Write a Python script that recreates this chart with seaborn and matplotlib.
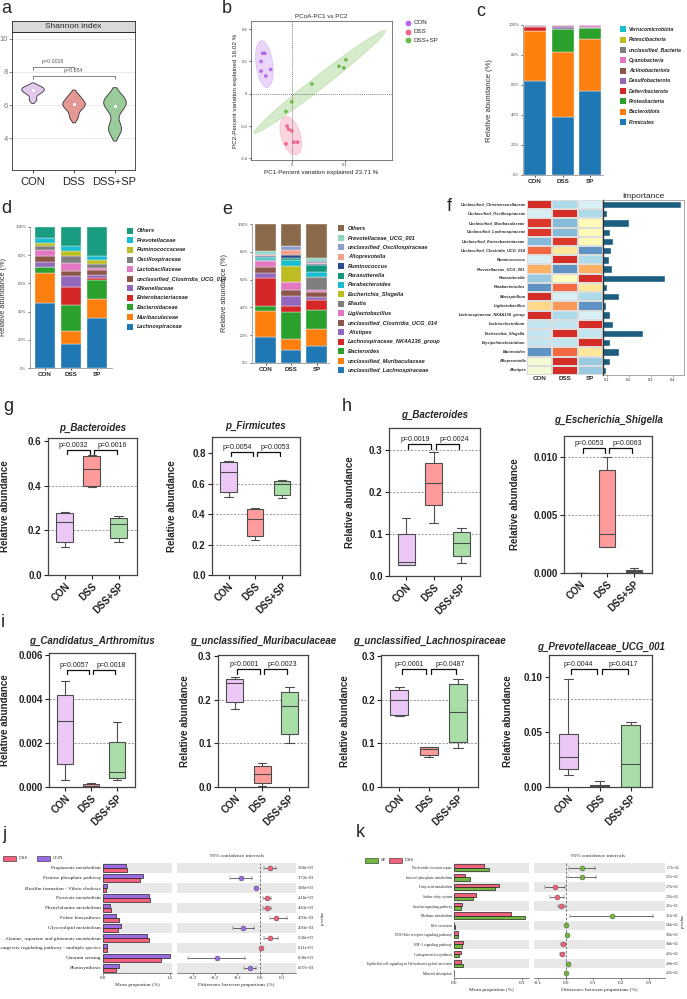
import numpy as np
import pandas as pd
import matplotlib
matplotlib.use('Agg')
import matplotlib.pyplot as plt
from matplotlib.patches import Ellipse, Rectangle
import matplotlib.transforms as mtransforms
import seaborn as sns

# ---------------- data ----------------
groups3 = ['CON', 'DSS', 'DSS+SP']
groups_bar = ['CON', 'DSS', 'SP']

# a: Shannon index
shannon_con = [6.35, 6.7, 6.85, 6.95, 7.05, 7.15]
shannon_dss = [5.3, 5.75, 6.0, 6.1, 6.3, 6.6]
shannon_sp = [4.5, 4.7, 5.8, 6.1, 6.3, 6.45]
shannon_p = ['p=0.0026', 'p=0.054']

# b: PCoA
pc1_con = [-0.055, -0.051, -0.058, -0.058, -0.049, -0.040]
pc2_con = [0.25, 0.25, 0.20, 0.14, 0.11, 0.15]
pc1_dss = [-0.009, -0.006, 0.000, -0.011, 0.004, 0.011]
pc2_dss = [-0.20, -0.22, -0.23, -0.31, -0.30, -0.30]
pc1_sp = [-0.011, 0.000, 0.038, 0.089, 0.098, 0.102]
pc2_sp = [-0.11, -0.05, 0.06, 0.17, 0.16, 0.21]

# c: phylum
phyla = ['Firmicutes', 'Bacteroidota', 'Proteobacteria', 'Deferribacterota', 'Desulfobacterota',
         'Actinobacteriota', 'Cyanobacteria', 'unclassified_Bacteria', 'Patescibacteria', 'Verrucomicrobiota']
phyla_con = [62.7, 33.3, 0.3, 2.2, 0.6, 0.3, 0.3, 0.2, 0.05, 0.05]
phyla_dss = [38.9, 43.3, 14.9, 0.5, 0.8, 1.2, 0.2, 0.1, 0.05, 0.05]
phyla_sp = [56.0, 34.7, 7.1, 0.3, 0.5, 0.4, 0.7, 0.1, 0.1, 0.1]

# d: family
families = ['Lachnospiraceae', 'Muribaculaceae', 'Bacteroidaceae', 'Enterobacteriaceae', 'Rikenellaceae',
            'unclassified_Clostridia_UCG_014', 'Lactobacillaceae', 'Oscillospiraceae', 'Ruminococcaceae',
            'Prevotellaceae', 'Others']
fam_con = [46.1, 21.5, 4.0, 0.3, 3.5, 3.7, 4.5, 2.6, 2.6, 3.1, 8.1]
fam_dss = [17.3, 8.7, 18.4, 13.0, 7.8, 3.6, 5.7, 4.7, 3.5, 3.6, 13.7]
fam_sp = [35.5, 13.2, 13.9, 1.5, 1.6, 3.6, 1.6, 2.6, 2.9, 2.8, 20.8]

# e: genus
genera = ['unclassified_Lachnospiraceae', 'unclassified_Muribaculaceae', 'Bacteroides',
          'Lachnospiraceae_NK4A136_group', 'Alistipes', 'unclassified_Clostridia_UCG_014',
          'Ligilactobacillus', 'Blautia', 'Escherichia_Shigella', 'Parabacteroides', 'Parasutterella',
          'Ruminococcus', 'Alloprevotella', 'unclassified_Oscillospiraceae', 'Prevotellaceae_UCG_001', 'Others']
gen_con = [18.5, 18.7, 4.0, 20.0, 3.5, 4.1, 4.8, 0.5, 0.3, 1.1, 0.5, 0.7, 0.8, 0.9, 2.4, 19.2]
gen_dss = [9.6, 7.9, 19.0, 4.7, 7.2, 4.4, 5.2, 0.5, 11.0, 4.4, 1.6, 2.4, 3.6, 2.4, 0.5, 15.6]
gen_sp = [12.5, 12.0, 13.4, 7.2, 2.4, 3.3, 1.5, 9.6, 0.3, 3.0, 5.5, 0.8, 0.5, 1.1, 2.4, 24.5]

# f: heatmap + importance
hm_rows = ['Unclassified_Christensenellaceae', 'Unclassified_Oscillospiraceae', 'Unclassified_Muribaculaceae',
           'Unclassified_Lachnospiraceae', 'Unclassified_Enterobacteriaceae', 'Unclassified_Clostridia_UCG_014',
           'Ruminococcus', 'Prevotellaceae_UCG_001', 'Parasutterella', 'Parabacteroides', 'Mucispirillum',
           'Ligilactobacillus', 'Lachnospiraceae_NK4A136_group', 'Lachnoclostridium', 'Escherichia_Shigella',
           'Erysipelatoclostridium', 'Bacteroides', 'Alloprevotella', 'Alistipes']
hm_con = [1.05, -0.3, 1.0, 1.0, -0.7, 0.8, -0.3, 0.5, -0.6, -0.9, 1.05, 0.3, 1.05, -0.4, -0.4, -0.4, -0.9, -0.1, -0.1]
hm_dss = [-0.5, 1.05, -0.7, -0.7, 1.0, 0.2, 1.05, -0.9, 0.0, 0.8, -0.3, 0.6, -0.5, -0.4, 1.05, -0.4, 0.8, 1.05, 1.05]
hm_sp = [-0.3, -0.5, 0.05, 0.05, 0.05, -0.9, -0.5, 0.5, 1.05, 0.2, -0.5, -0.9, -0.3, 1.05, -0.4, 1.05, 0.2, -0.6, -0.6]
importance = [0.436, 0.099, 0.20, 0.114, 0.126, 0.12, 0.108, 0.124, 0.365, 0.10, 0.155, 0.095, 0.115,
              0.126, 0.262, 0.114, 0.156, 0.114, 0.095]

# g-i: box plots, five-number summaries (min, q1, median, q3, max)
box_specs = [
    dict(title='p_Bacteroides', box=(48, 438, 137, 575), ylim=(0, 0.615), yticks=[0, 0.2, 0.4, 0.6],
         fmt='{:.1f}', grid=[0.2, 0.4], by=0.562, ty=428, ylx=10,
         con=[0.127, 0.15, 0.24, 0.277, 0.281], dss=[0.394, 0.40, 0.476, 0.536, 0.539],
         sp=[0.147, 0.168, 0.228, 0.258, 0.267], p=['p=0.0032', 'p=0.0016']),
    dict(title='p_Firmicutes', box=(212, 437, 300, 575), ylim=(0, 0.905), yticks=[0, 0.2, 0.4, 0.6, 0.8],
         fmt='{:.1f}', grid=[0.2, 0.4, 0.6], by=0.808, ty=426, ylx=177,
         con=[0.513, 0.542, 0.673, 0.739, 0.75], dss=[0.23, 0.258, 0.37, 0.43, 0.441],
         sp=[0.507, 0.525, 0.594, 0.616, 0.623], p=['p=0.0054', 'p=0.0053']),
    dict(title='g_Bacteroides', box=(389, 428, 480, 576), ylim=(0, 0.352), yticks=[0, 0.1, 0.2, 0.3],
         fmt='{:.1f}', grid=[0.1, 0.2, 0.3], by=0.313, ty=415, ylx=355,
         con=[0.025, 0.026, 0.033, 0.099, 0.137], dss=[0.125, 0.17, 0.222, 0.268, 0.296],
         sp=[0.03, 0.047, 0.079, 0.105, 0.114], p=['p=0.0019', 'p=0.0024']),
    dict(title='g_Escherichia_Shigella', box=(564, 436, 652, 573), ylim=(0, 0.0118), yticks=[0, 0.005, 0.010],
         fmt='{:.3f}', grid=[0.005, 0.010], by=0.01075, ty=420, ylx=520,
         con=[0.0, 0.0, 0.00001, 0.00002, 0.00003], dss=[0.00222, 0.00227, 0.00334, 0.00888, 0.01003],
         sp=[0.00005, 0.0001, 0.0002, 0.0003, 0.00045], p=['p=0.0053', 'p=0.0063']),
    dict(title='g_Candidatus_Arthromitus', box=(49, 653, 135, 787), ylim=(0, 0.00609),
         yticks=[0, 0.002, 0.004, 0.006], fmt='{:.3f}', grid=[0.002, 0.004], by=0.00532, ty=641, ylx=10,
         con=[0.00033, 0.00105, 0.003, 0.0042, 0.0048], dss=[0.00001, 0.00002, 0.00005, 0.00012, 0.0002],
         sp=[0.00033, 0.00042, 0.0007, 0.00206, 0.00294], p=['p=0.0057', 'p=0.0018']),
    dict(title='g_unclassified_Muribaculaceae', box=(218, 655, 308, 787), ylim=(0, 0.302),
         yticks=[0, 0.1, 0.2, 0.3], fmt='{:.1f}', grid=[0.1, 0.2], by=0.269, ty=641, ylx=190,
         con=[0.179, 0.195, 0.239, 0.246, 0.251], dss=[0.0015, 0.01, 0.03, 0.048, 0.055],
         sp=[0.1, 0.122, 0.185, 0.218, 0.229], p=['p<0.0001', 'p=0.0023']),
    dict(title='g_unclassified_Lachnospiraceae', box=(381, 655, 478, 787), ylim=(0, 0.302),
         yticks=[0, 0.1, 0.2, 0.3], fmt='{:.1f}', grid=[0.1, 0.2], by=0.269, ty=641, ylx=350,
         con=[0.163, 0.165, 0.2, 0.223, 0.229], dss=[0.068, 0.074, 0.086, 0.091, 0.0925],
         sp=[0.09, 0.104, 0.172, 0.235, 0.246], p=['p=0.0001', 'p=0.0487']),
    dict(title='g_Prevotellaceae_UCG_001', box=(549, 655, 652, 787), ylim=(0, 0.12),
         yticks=[0, 0.05, 0.10], fmt='{:.2f}', grid=[0.04, 0.08], by=0.107, ty=647, ylx=513,
         con=[0.0107, 0.0168, 0.0274, 0.048, 0.098], dss=[0.0, 0.0003, 0.0006, 0.0015, 0.0058],
         sp=[0.0, 0.0, 0.0213, 0.0564, 0.0595], p=['p=0.0044', 'p=0.0417']),
]

# j: STAMP DSS vs CON
paths_j = ['Propanoate metabolism', 'Pentose phosphate pathway', 'Biofilm formation - Vibrio cholerae',
           'Pyruvate metabolism', 'Phenylalanine metabolism', 'Folate biosynthesis', 'Glycerolipid metabolism',
           'Alanine, aspartate and glutamate metabolism', 'Longevity regulating pathway - multiple species',
           'Quorum sensing', 'Photosynthesis']
j_con = [0.51, 0.91, 0.09, 1.03, 0.16, 0.29, 0.41, 0.98, 0.08, 1.50, 0.35]
j_dss = [0.55, 0.83, 0.07, 1.06, 0.19, 0.36, 0.34, 1.03, 0.09, 1.30, 0.30]
j_diff = [0.045, -0.084, -0.015, 0.033, 0.033, 0.075, -0.075, 0.048, 0.007, -0.194, -0.042]
j_lo = [0.018, -0.134, -0.020, 0.015, 0.015, 0.045, -0.120, 0.018, 0.005, -0.321, -0.069]
j_hi = [0.072, -0.033, -0.010, 0.052, 0.052, 0.122, -0.024, 0.081, 0.009, -0.064, -0.015]
j_p = ['3.68e-03', '3.72e-03', '3.86e-03', '4.18e-03', '4.83e-03', '4.93e-03', '4.93e-03', '5.38e-03',
       '6.11e-03', '6.38e-03', '6.97e-03']

# k: STAMP SP vs DSS
paths_k = ['Nucleotide excision repair', 'Inositol phosphate metabolism', 'Fatty acid metabolism',
           'Sulfur relay system', 'Insulin signaling pathway', 'Methane metabolism', 'Bile secretion',
           'NOD-like receptor signaling pathway', 'HIF-1 signaling pathway', 'Carbapenem biosynthesis',
           'Epithelial cell signaling in Helicobacter pylori infection', 'Mineral absorption']
k_dss = [0.130, 0.048, 0.196, 0.097, 0.037, 0.252, 0.002, 0.018, 0.041, 0.029, 0.032, 0.001]
k_sp = [0.154, 0.072, 0.180, 0.083, 0.029, 0.313, 0.003, 0.018, 0.037, 0.023, 0.038, 0.002]
k_diff = [0.059, 0.059, -0.040, -0.031, -0.016, 0.167, 0.002, 0.004, -0.010, -0.012, 0.010, 0.001]
k_lo = [0.012, 0.010, -0.073, -0.058, -0.028, 0.017, 0.001, 0.002, -0.015, -0.020, 0.005, 0.0005]
k_hi = [0.105, 0.108, -0.004, -0.006, -0.004, 0.316, 0.003, 0.006, -0.005, -0.005, 0.015, 0.0015]
k_p = ['1.72e-02', '2.55e-02', '2.76e-02', '2.91e-02', '3.15e-02', '3.31e-02', '3.44e-02', '3.58e-02',
       '3.68e-02', '4.06e-02', '4.08e-02', '4.95e-02']

# ---------------- styles ----------------
violin_colors = ['#e6c3f2', '#f38a86', '#93d393']
pcoa_colors = ['#b26de6', '#f0668f', '#6fb84a']
phyla_colors = ['#1f77b4', '#ff7f0e', '#2ca02c', '#d62728', '#9467bd', '#8c564b', '#e377c2', '#7f7f7f',
                '#bcbd22', '#17becf']
fam_colors = ['#1f77b4', '#ff7f0e', '#2ca02c', '#d62728', '#9467bd', '#8c564b', '#e377c2', '#7f7f7f',
              '#bcbd22', '#17becf', '#1a9c80']
gen_colors = ['#1f77b4', '#ff7f0e', '#2ca02c', '#d62728', '#9467bd', '#8c564b', '#e377c2', '#7f7f7f',
              '#bcbd22', '#17becf', '#13977a', '#2c4a8e', '#f5a08b', '#8e9dcc', '#8fd6c2', '#8b6a4b']
box_colors = ['#ecc8f7', '#ff9b9b', '#a9dea9']
PINK, PURPLE, GREEN = '#f4607e', '#9b6be6', '#72b840'

sns.set_style('ticks')
plt.rcParams['font.family'] = ['Liberation Sans', 'DejaVu Sans']
plt.rcParams['axes.linewidth'] = 0.6
plt.rcParams['xtick.major.width'] = 0.6
plt.rcParams['ytick.major.width'] = 0.6

W, H = 687, 999
fig = plt.figure(figsize=(W / 100, H / 100), dpi=100)


def AX(l, t, r, b):
    return fig.add_axes([l / W, 1 - b / H, (r - l) / W, (b - t) / H])


def FT(x, y, s, **kw):
    return fig.text(x / W, 1 - y / H, s, **kw)


def plabel(x, y, s):
    FT(x, y, s, fontsize=13, va='top', ha='left')


# ================= a =================
axA = AX(12, 32, 135, 170)
dfA = pd.DataFrame({'group': np.repeat(groups3, [len(shannon_con), len(shannon_dss), len(shannon_sp)]),
                    'Shannon': shannon_con + shannon_dss + shannon_sp})
axA.yaxis.grid(True, color='#e8e8e8', lw=0.6)
axA.set_axisbelow(True)
sns.violinplot(data=dfA, x='group', y='Shannon', hue='group', palette=violin_colors, inner=None,
               density_norm='width', width=0.55, bw_method=0.5, cut=1.5, linewidth=0.6,
               linecolor='#333333', legend=False, ax=axA)
med = dfA.groupby('group', sort=False)['Shannon'].median()
axA.scatter(np.arange(3), med.values, color='white', s=5, zorder=5, linewidths=0)
axA.set_ylim(2.1, 10.4)
axA.set_xlim(-0.5, 2.5)
axA.set_yticks([4, 6, 8, 10])
axA.tick_params(axis='y', labelsize=5.5, labelcolor='#777777', length=2, color='#777777', pad=1)
axA.tick_params(axis='x', labelsize=8, length=2, pad=3)
axA.set_xlabel('')
axA.set_ylabel('')
for s in axA.spines.values():
    s.set_color('#333333')


def abracket(ax, x1, x2, y, leg, text, ty):
    ax.plot([x1, x1, x2, x2], [y - leg, y, y, y - leg], color='#555555', lw=0.5)
    ax.text((x1 + x2) / 2, ty, text, ha='center', va='center', fontsize=3.8, color='#555555')


abracket(axA, 0, 1, 8.32, 0.22, shannon_p[0], 8.62)
abracket(axA, 0, 2, 7.78, 0.22, shannon_p[1], 8.08)
axS = AX(12, 21, 135, 32)
axS.set_facecolor('#d9d9d9')
axS.set_xticks([])
axS.set_yticks([])
axS.text(0.5, 0.5, 'Shannon index', ha='center', va='center', fontsize=6, transform=axS.transAxes)
plabel(1, 0, 'a')

# ================= b =================
axB = AX(251, 21, 392, 160)
dfB = pd.DataFrame({'group': np.repeat(groups3, 6), 'PC1': pc1_con + pc1_dss + pc1_sp,
                    'PC2': pc2_con + pc2_dss + pc2_sp})
for g, col in zip(groups3, pcoa_colors):
    sub = dfB[dfB.group == g]
    cov = np.cov(sub.PC1, sub.PC2)
    vals, vecs = np.linalg.eigh(cov)
    order = vals.argsort()[::-1]
    vals, vecs = vals[order], vecs[:, order]
    ang = np.degrees(np.arctan2(vecs[1, 0], vecs[0, 0]))
    axB.add_patch(Ellipse((sub.PC1.mean(), sub.PC2.mean()), 2 * 2.45 * np.sqrt(vals[0]),
                          2 * 2.45 * np.sqrt(vals[1]), angle=ang, facecolor=col, alpha=0.28,
                          edgecolor=col, lw=0.6))
sns.scatterplot(data=dfB, x='PC1', y='PC2', hue='group', palette=pcoa_colors, s=7, linewidth=0,
                legend=False, ax=axB, zorder=4)
axB.axhline(0, ls=(0, (1.5, 1.5)), color='#555555', lw=0.5)
axB.axvline(0, ls=(0, (1.5, 1.5)), color='#555555', lw=0.5)
axB.set_xlim(-0.077, 0.189)
axB.set_ylim(-0.41, 0.45)
axB.set_xticks([0, 0.1])
axB.set_xticklabels(['0', '0.1'])
axB.set_yticks([-0.4, -0.2, 0, 0.2, 0.4])
axB.set_yticklabels(['-0.4', '-0.2', '0', '0.2', '0.4'])
axB.tick_params(labelsize=3, length=1.5, pad=1, colors='#444444')
axB.set_xlabel('PC1-Percent variation explained 23.71 %', fontsize=4.5, labelpad=2)
axB.set_ylabel('PC2-Percent variation explained 16.02 %', fontsize=4.5, labelpad=2)
axB.set_title('PCoA-PC1 vs PC2', fontsize=4.5, pad=2)
for s in axB.spines.values():
    s.set_color('#666666')
for i, (g, col) in enumerate(zip(groups3, pcoa_colors)):
    y = 23 + i * 8.5
    fig.add_artist(plt.Line2D([408 / W], [1 - y / H], marker='o', color=col, ms=3.2, lw=0,
                              transform=fig.transFigure))
    FT(414, y, g, fontsize=4.5, va='center', ha='left')
plabel(222, 0, 'b')


# ================= c, d, e =================
def stacked(ax, cats, colors, cols, width):
    table = pd.DataFrame(dict(zip(groups_bar, cols)), index=cats)
    bottom = np.zeros(len(groups_bar))
    for cat, col in zip(cats, colors):
        v = table.loc[cat].values
        ax.bar(groups_bar, v, bottom=bottom, width=width, color=col, edgecolor='#eeeeee', linewidth=0.3)
        bottom += v
    ax.set_ylim(0, 100)
    ax.set_yticks(range(0, 101, 20))
    ax.set_yticklabels([f'{v}%' for v in range(0, 101, 20)])
    ax.tick_params(axis='y', labelsize=3.2, length=1.5, pad=1, colors='#555555')
    ax.tick_params(axis='x', labelsize=4.5, length=1.5, pad=1.5)
    for lab in ax.get_xticklabels():
        lab.set_fontweight('bold')
    for s in ['top', 'right']:
        ax.spines[s].set_visible(False)
    for s in ['left', 'bottom']:
        ax.spines[s].set_color('#999999')


def box_legend(x, y0, dy, labels, colors, fs, sq=5.5, tx=None):
    for i, (lab, col) in enumerate(zip(labels, colors)):
        y = y0 + i * dy
        fig.add_artist(Rectangle((x / W, 1 - (y + sq / 2) / H), sq / W, sq / H,
                                 transform=fig.transFigure, facecolor=col, edgecolor='none'))
        FT(tx, y, lab, fontsize=fs, va='center', ha='left', style='italic', weight='bold', color='#222222')


axC = AX(523, 25, 603, 175)
stacked(axC, phyla, phyla_colors, [phyla_con, phyla_dss, phyla_sp], 0.8)
axC.set_xlim(-0.44, 2.47)
axC.set_ylabel('Relative abundance (%)', fontsize=5.6, color='#333333', labelpad=2)
axC.yaxis.set_label_coords((493 - 523) / 80, 0.5)
box_legend(620, 29.3, 10.3, phyla[::-1], phyla_colors[::-1], 3.7, sq=6, tx=629)
plabel(476, 3, 'c')

axD = AX(30, 227, 112, 368)
stacked(axD, families, fam_colors, [fam_con, fam_dss, fam_sp], 0.77)
axD.set_xlim(-0.58, 2.58)
axD.set_ylabel('Relative abundance (%)', fontsize=5.3, color='#333333')
axD.yaxis.set_label_coords((7 - 30) / 82, 0.5)
box_legend(127, 230.7, 9.6, families[::-1], fam_colors[::-1], 4.1, sq=6, tx=137)
plabel(1, 200, 'd')

axE = AX(252, 224, 329, 363)
stacked(axE, genera, gen_colors, [gen_con, gen_dss, gen_sp], 0.82)
axE.set_xlim(-0.53, 2.49)
axE.set_ylabel('Relative abundance (%)', fontsize=5.3, color='#333333')
axE.yaxis.set_label_coords((228 - 252) / 77, 0.5)
box_legend(338, 228.3, 9.45, genera[::-1], gen_colors[::-1], 4.1, sq=6, tx=348)
plabel(222, 201, 'e')

# ================= f =================
axH = AX(527, 200, 603, 375)
axCB = AX(668, 348, 670.5, 372)
hm = pd.DataFrame({'CON': hm_con, 'DSS': hm_dss, 'SP': hm_sp}, index=hm_rows)
sns.heatmap(hm, cmap='RdYlBu_r', vmin=-1.3, vmax=1.3, linewidths=0.25, linecolor='#dddddd',
            ax=axH, cbar_ax=axCB, xticklabels=True, yticklabels=True)
axH.set_yticklabels(hm_rows, fontsize=2.9, fontweight='bold', fontstyle='italic', rotation=0)
axH.set_xticklabels(groups_bar, fontsize=4.5, fontweight='bold', rotation=0)
axH.tick_params(length=0, pad=1)
axCB.set_yticks([-1, -0.5, 0, 0.5, 1])
axCB.set_yticklabels(['-1.0', '-0.5', '0.0', '0.5', '1.0'])
axCB.tick_params(labelsize=2.3, length=1, pad=0.5, width=0.3)
for s in axCB.spines.values():
    s.set_visible(False)
axI = AX(603, 200, 684, 375)
dfI = pd.DataFrame({'taxon': hm_rows, 'importance': importance})
sns.barplot(data=dfI, x='importance', y='taxon', orient='h', color='#1b5e80', width=0.8, ax=axI,
            saturation=1)
axI.set_xlim(0.082, 0.45)
axI.set_ylim(len(hm_rows) - 0.5, -0.5)
axI.set_yticks([])
axI.set_ylabel('')
axI.set_xlabel('')
axI.set_xticks([0.1, 0.2, 0.3, 0.4])
axI.set_xticklabels(['0.1', '0.2', '0.3', '0.4'])
axI.tick_params(axis='x', labelsize=2.8, length=1, pad=1)
axI.set_title('Importance', fontsize=6, pad=1.5)
for s in axI.spines.values():
    s.set_color('#888888')
    s.set_linewidth(0.5)
axI.spines['left'].set_color('#333333')
axI.spines['left'].set_linewidth(1.0)
FT(447, 198, 'f', fontsize=13, va='top', ha='left')


# ================= g, h, i =================
def boxpanel(spec):
    l, t, r, b = spec['box']
    ax = AX(l, t, r, b)
    df = pd.DataFrame({'group': np.repeat(groups3, 5), 'val': np.concatenate([spec['con'], spec['dss'], spec['sp']])})
    for gv in spec['grid']:
        ax.axhline(gv, ls=(0, (2.5, 1.8)), color='#8a8a8a', lw=0.6, zorder=0)
    sns.boxplot(data=df, x='group', y='val', hue='group', palette=box_colors, whis=(0, 100), width=0.62,
                linecolor='#4d4d4d', linewidth=0.8, legend=False, ax=ax, saturation=1)
    ax.set_xlim(-0.62, 2.68)
    ax.set_ylim(*spec['ylim'])
    ax.set_yticks(spec['yticks'])
    ax.set_yticklabels([spec['fmt'].format(v) for v in spec['yticks']], fontweight='bold', fontsize=7)
    ax.set_xticks(range(3))
    ax.set_xticklabels(groups3, rotation=45, ha='right', rotation_mode='anchor', fontweight='bold', fontsize=7)
    ax.tick_params(axis='both', length=3, width=0.8, pad=1.5, colors='#222222')
    ax.set_xlabel('')
    ax.set_ylabel('Relative abundance', fontsize=7, fontweight='bold')
    ax.yaxis.set_label_coords((spec['ylx'] - l) / (r - l), 0.5)
    for s in ax.spines.values():
        s.set_color('#444444')
        s.set_linewidth(0.9)
    y0, y1 = spec['ylim']
    leg = 4.5 / (b - t) * (y1 - y0)
    by = spec['by']
    for (a, c), txt, tx in zip([(0, 1), (1, 2)], spec['p'], [0.33, 1.75]):
        ax.plot([a + 0.08, a + 0.08, c - 0.08, c - 0.08], [by - leg, by, by, by - leg], color='#111111', lw=0.9)
        ax.text(tx, by + leg * 0.25, txt, ha='center', va='bottom', fontsize=5.0, color='#222222')
    FT((l + r) / 2, spec['ty'], spec['title'], fontsize=7, fontweight='bold', fontstyle='italic',
       ha='center', va='center')


for spec in box_specs:
    boxpanel(spec)
plabel(3, 398, 'g')
plabel(342, 398, 'h')
plabel(1, 614, 'i')


# ================= j, k =================
def stamp(bar_box, diff_box, paths, up_name, up_vals, up_col, lo_name, lo_vals, lo_col,
          diff, lo, hi, pos_col, neg_col, pvals, xlim_b, xt_b, xlim_d, xt_d, lab_fs, p_fs, p_x, pv_x, leg_items,
          leg_y, title_x):
    serif = ['Liberation Serif', 'DejaVu Serif']
    n = len(paths)
    axb = AX(*bar_box)
    for i in range(0, n, 2):
        axb.axhspan(i - 0.5, i + 0.5, color='#e8e8e8', lw=0, zorder=0)
    df = pd.DataFrame({'path': paths * 2, 'group': [up_name] * n + [lo_name] * n,
                       'val': list(up_vals) + list(lo_vals)})
    sns.barplot(data=df, y='path', x='val', hue='group', hue_order=[up_name, lo_name],
                palette=[up_col, lo_col], orient='h', width=0.72, edgecolor='#222222', linewidth=0.5,
                legend=False, ax=axb, saturation=1)
    axb.set_ylim(n - 0.5, -0.5)
    axb.set_xlim(*xlim_b)
    axb.set_xticks(xt_b)
    axb.set_xticklabels([f'{v:.1f}' for v in xt_b], fontfamily=serif, fontsize=3.6)
    axb.set_yticks(range(n))
    axb.set_yticklabels(paths, fontfamily=serif, fontsize=lab_fs)
    axb.tick_params(axis='y', length=0, pad=1.5)
    axb.tick_params(axis='x', length=1.5, pad=1, width=0.4)
    axb.set_ylabel('')
    axb.set_xlabel('Mean proportion (%)', fontfamily=serif, fontsize=3.8, labelpad=2)
    for s in ['top', 'right', 'left']:
        axb.spines[s].set_visible(False)
    axb.spines['bottom'].set_linewidth(0.4)

    axd = AX(*diff_box)
    for i in range(0, n, 2):
        axd.axhspan(i - 0.5, i + 0.5, color='#e8e8e8', lw=0, zorder=0)
    axd.axvline(0, ls=(0, (3, 2)), color='#666666', lw=0.6, zorder=1)
    for i in range(n):
        col = pos_col if diff[i] > 0 else neg_col
        axd.errorbar(diff[i], i, xerr=[[diff[i] - lo[i]], [hi[i] - diff[i]]], fmt='o', color=col,
                     mec='#444444', mew=0.3, ms=3.6, ecolor='#333333', elinewidth=0.5, capsize=1.3,
                     capthick=0.5, zorder=3)
        axd.text(p_x, i, pvals[i], transform=mtransforms.blended_transform_factory(axd.transAxes, axd.transData),
                 fontfamily=serif, fontsize=p_fs, va='center', ha='left')
    axd.set_ylim(n - 0.5, -0.5)
    axd.set_xlim(*xlim_d)
    axd.set_xticks(xt_d)
    axd.set_xticklabels([f'{v:.1f}' for v in xt_d], fontfamily=serif, fontsize=3.6)
    axd.set_yticks([])
    axd.tick_params(axis='x', length=1.5, pad=1, width=0.4)
    axd.set_xlabel('Difference between proportions (%)', fontfamily=serif, fontsize=3.8, labelpad=2)
    for s in ['top', 'right', 'left']:
        axd.spines[s].set_visible(False)
    axd.spines['bottom'].set_linewidth(0.4)
    FT(title_x, diff_box[1] - 7, '95% confidence intervals', fontfamily=serif, fontsize=3.8,
       ha='center', va='center')
    FT(pv_x, (diff_box[1] + diff_box[3]) / 2, 'p-value', fontfamily=serif, fontsize=3.4, rotation=90,
       ha='center', va='center')
    for (lx, name, col) in leg_items:
        fig.add_artist(Rectangle((lx / W, 1 - (leg_y + 2.5) / H), 13 / W, 5 / H, transform=fig.transFigure,
                                 facecolor=col, edgecolor='#222222', lw=0.4))
        FT(lx + 16, leg_y, name, fontfamily=serif, fontsize=3.6, va='center', ha='left')


stamp((103, 863, 172, 973), (177, 863, 296, 973), paths_j, 'CON', j_con, PURPLE, 'DSS', j_dss, PINK,
      j_diff, j_lo, j_hi, PINK, PURPLE, j_p, (0, 1.553), [0.0, 1.5], (-0.372, 0.164),
      [-0.3, -0.2, -0.1, 0.0, 0.1], 3.8, 3.3, 1.012, 323,
      [(3, 'DSS', PINK), (37, 'CON', PURPLE)], 858, 237)
stamp((454, 863, 529, 978), (534, 863, 665, 978), paths_k, 'DSS', k_dss, PINK, 'SP', k_sp, GREEN,
      k_diff, k_lo, k_hi, GREEN, PINK, k_p, (0, 0.33), [0.0, 0.3], (-0.114, 0.358),
      [-0.1, 0.0, 0.1, 0.2, 0.3], 2.7, 2.6, 1.01, 683,
      [(365, 'SP', GREEN), (389, 'DSS', PINK)], 860, 598)
plabel(2, 826, 'j')
plabel(356, 824, 'k')

fig.savefig('out.png', dpi=100)
